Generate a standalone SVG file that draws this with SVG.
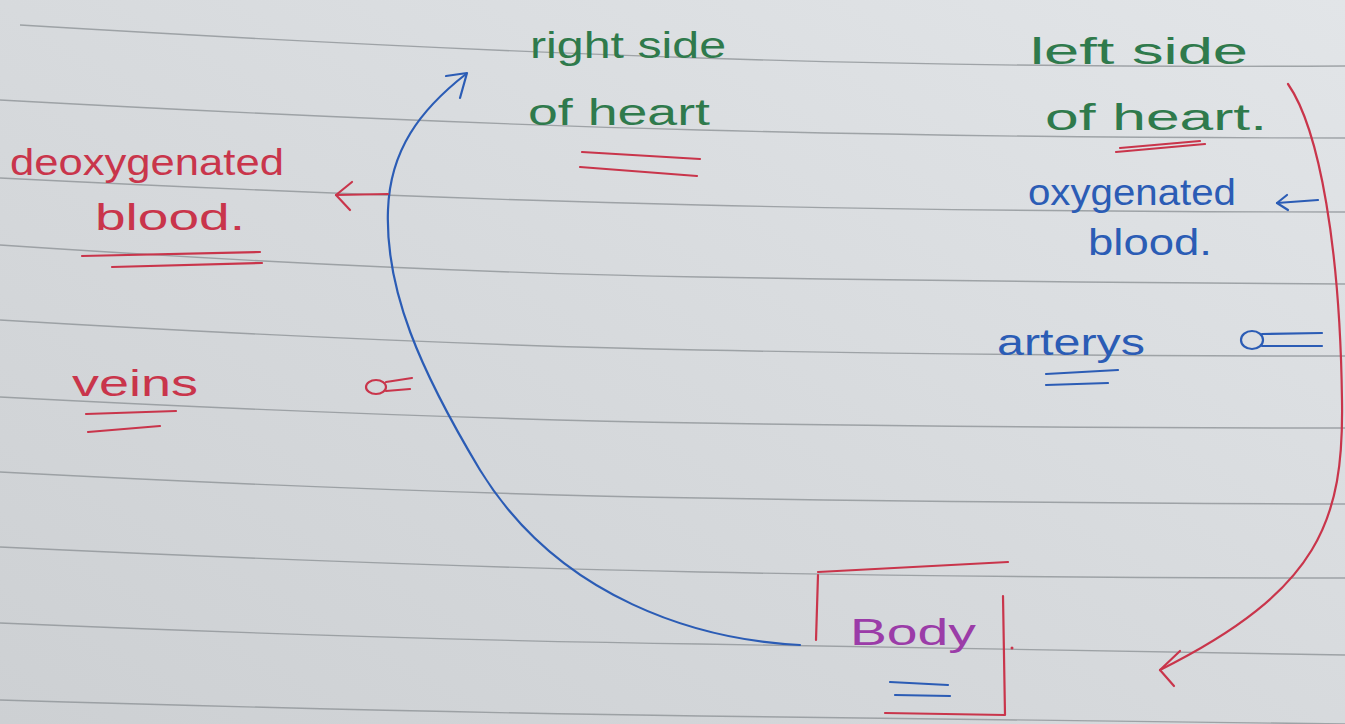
<svg xmlns="http://www.w3.org/2000/svg" width="1345" height="724" viewBox="0 0 1345 724">
<defs>
<linearGradient id="paper" x1="0" y1="1" x2="1" y2="0">
<stop offset="0" stop-color="#cdd0d3"/>
<stop offset="0.5" stop-color="#d7dadd"/>
<stop offset="1" stop-color="#e2e5e8"/>
</linearGradient>
<style>
.rule{fill:none;stroke:#8f9397;stroke-width:1.4;opacity:0.8}
.t{font-family:"Liberation Sans","DejaVu Sans",sans-serif;font-size:36px}
.g{fill:#2f7a4c}
.r{fill:#c9354b}
.b{fill:#2b5cb5}
.p{fill:#9b3ca8}
.sr{fill:none;stroke:#c9354b;stroke-width:2.2;stroke-linecap:round;stroke-linejoin:round}
.sb{fill:none;stroke:#2b5cb5;stroke-width:2.2;stroke-linecap:round;stroke-linejoin:round}
</style>
</defs>
<rect width="1345" height="724" fill="url(#paper)"/>
<g id="ruled-lines">
<path class="rule" d="M20,25 Q400,48 700,58 T1345,66"/>
<path class="rule" d="M0,100 Q400,122 700,130 T1345,138"/>
<path class="rule" d="M0,178 Q400,198 700,205 T1345,212"/>
<path class="rule" d="M0,245 Q400,272 700,277 T1345,284"/>
<path class="rule" d="M0,320 Q400,344 700,350 T1345,356"/>
<path class="rule" d="M0,397 Q400,418 700,423 T1345,428"/>
<path class="rule" d="M0,472 Q400,493 700,498 T1345,504"/>
<path class="rule" d="M0,547 Q400,566 700,572 T1345,578"/>
<path class="rule" d="M0,623 Q400,640 700,644 T1345,655"/>
<path class="rule" d="M0,700 Q400,712 700,716 T1345,724"/>
</g>
<g id="connectors">
<path class="sb" d="M800,645 C700,640 560,600 480,470 C420,370 385,290 388,210 C390,150 420,110 466,74"/>
<path class="sb" d="M446,76 L467,73 L460,98"/>
<path class="sr" d="M1288,84 C1320,130 1340,250 1342,400 C1344,520 1320,590 1160,670"/>
<path class="sr" d="M1180,651 L1160,670 L1174,686"/>
<path class="sr" d="M388,194 L336,195"/>
<path class="sr" d="M352,182 L336,195 L350,210"/>
<path class="sb" d="M1318,200 L1277,203"/>
<path class="sb" d="M1287,195 L1277,203 L1288,210"/>
</g>
<g id="right-heart">
<text class="t g" x="530" y="58" textLength="196" lengthAdjust="spacingAndGlyphs">right side</text>
<text class="t g" x="528" y="125" textLength="182" lengthAdjust="spacingAndGlyphs">of heart</text>
<path class="sr" d="M582,152 L700,159 M580,167 L697,176"/>
</g>
<g id="left-heart">
<text class="t g" x="1030" y="64" font-size="38" textLength="218" lengthAdjust="spacingAndGlyphs">left side</text>
<text class="t g" x="1045" y="130" font-size="38" textLength="222" lengthAdjust="spacingAndGlyphs">of heart.</text>
<path class="sr" d="M1116,152 L1205,144 M1120,148 L1200,141"/>
</g>
<g id="deoxygenated-blood">
<text class="t r" x="10" y="175" textLength="274" lengthAdjust="spacingAndGlyphs">deoxygenated</text>
<text class="t r" x="95" y="230" textLength="150" lengthAdjust="spacingAndGlyphs">blood.</text>
<path class="sr" d="M82,256 L260,252 M112,267 L262,263"/>
</g>
<g id="oxygenated-blood">
<text class="t b" x="1028" y="205" font-size="34" textLength="208" lengthAdjust="spacingAndGlyphs">oxygenated</text>
<text class="t b" x="1088" y="255" font-size="34" textLength="124" lengthAdjust="spacingAndGlyphs">blood.</text>
</g>
<g id="veins">
<text class="t r" x="72" y="396" textLength="126" lengthAdjust="spacingAndGlyphs">veins</text>
<path class="sr" d="M86,414 L176,411 M88,432 L160,426"/>
<ellipse class="sr" cx="376" cy="387" rx="10" ry="7"/>
<path class="sr" d="M386,382 L412,378 M386,391 L410,389"/>
</g>
<g id="arterys">
<text class="t b" x="997" y="355" font-size="34" textLength="148" lengthAdjust="spacingAndGlyphs">arterys</text>
<path class="sb" d="M1046,374 L1118,370 M1046,385 L1108,383"/>
<ellipse class="sb" cx="1252" cy="340" rx="11" ry="9"/>
<path class="sb" d="M1262,334 L1322,333 M1262,346 L1322,346"/>
</g>
<g id="body">
<path class="sr" d="M818,572 L1008,562 M818,575 L816,640 M1003,596 L1005,715 L885,713"/>
<text class="t p" x="850" y="645" font-size="52" textLength="126" lengthAdjust="spacingAndGlyphs">Body</text>
<path class="sb" d="M890,682 L948,685 M895,695 L950,696"/>
<circle cx="1012" cy="648" r="1.5" fill="#c9354b"/>
</g>
</svg>
